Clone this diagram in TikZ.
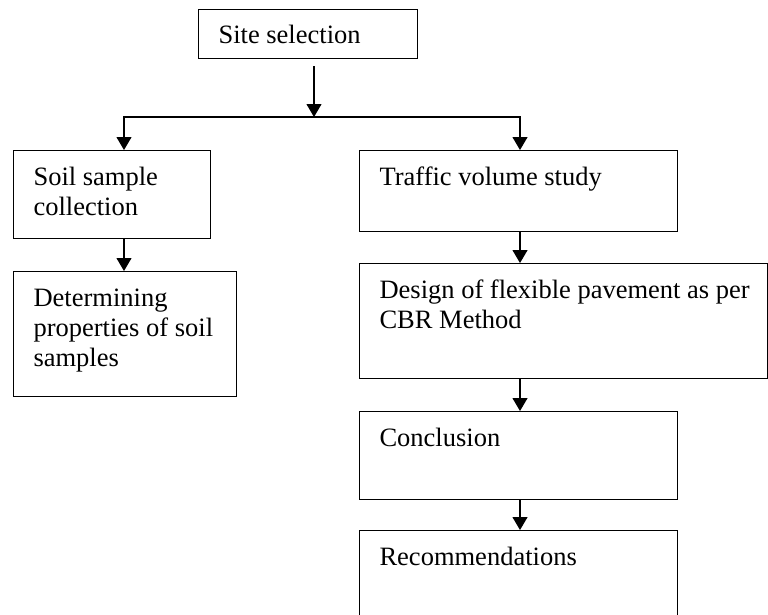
\documentclass[tikz,border=0pt]{standalone}
\usepackage{fontspec}
\setmainfont{Liberation Serif}
\usetikzlibrary{arrows.meta}

\tikzset{
  stage/.style={draw, line width=1.1pt, anchor=north west, rectangle,
    inner xsep=20pt, inner ysep=0pt, align=flush left, text height=35pt,
    font=\fontsize{26.5}{30}\selectfont},
  flow/.style={line width=1.1pt, -{Triangle[width=15pt,length=13pt]}},
}

\begin{document}
\begin{tikzpicture}[x=1pt, y=-1pt]

% Page frame (box at the bottom runs off the page)
\clip (0,0) rectangle (768,614);

%--- Top ---
\node[stage, text width=179pt, text height=34pt, text depth=15pt] (site) at (198,9) {Site selection};

%--- Left branch ---
\node[stage, text width=157pt, text depth=53pt] (soil) at (13,150) {Soil sample\\collection};
\node[stage, text width=183pt, text depth=90pt] (props) at (13,271) {Determining\\properties of soil\\samples};

%--- Right branch ---
\node[stage, text width=368pt, text depth=80pt] (design) at (359,263) {\mbox{Design of flexible pavement as per}\\CBR Method};
\node[stage, text width=278pt, text depth=46pt] (traffic) at (359,150) {Traffic volume study};
\node[stage, text width=278pt, text depth=53pt] (concl) at (359,411) {Conclusion};
\node[stage, text width=278pt, text depth=90pt] (recom) at (359,530) {Recommendations};

% Split point and branch columns
\coordinate (split) at (314,117);
\coordinate (leftcol) at (124,117);
\coordinate (rightcol) at (520,117);

% Connectors
\draw[flow, shorten <=7pt] (split |- site.south) -- (split);
\draw[flow] (split) -- (leftcol) -- (leftcol |- soil.north);
\draw[flow] (split) -- (rightcol) -- (rightcol |- traffic.north);
\draw[flow] (leftcol |- soil.south) -- (leftcol |- props.north);
\draw[flow] (rightcol |- traffic.south) -- (rightcol |- design.north);
\draw[flow] (rightcol |- design.south) -- (rightcol |- concl.north);
\draw[flow] (rightcol |- concl.south) -- (rightcol |- recom.north);

\end{tikzpicture}
\end{document}
